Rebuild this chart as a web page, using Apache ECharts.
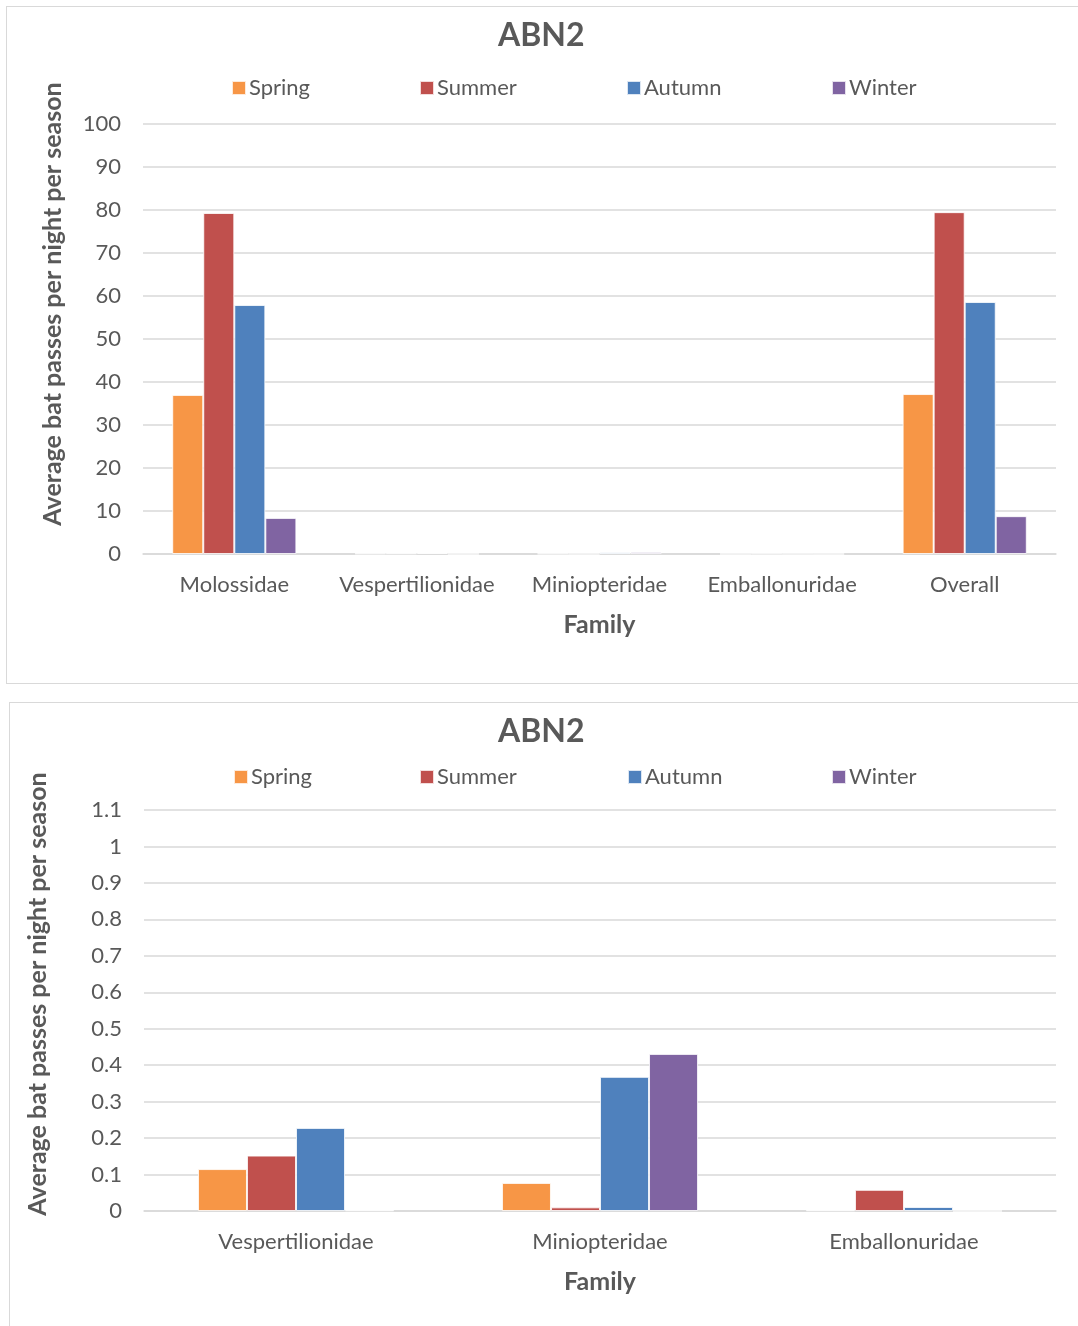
<!DOCTYPE html>
<html>
<head>
<meta charset="utf-8">
<script src="https://cdn.jsdelivr.net/npm/echarts@6/dist/echarts.min.js"></script>
<style>
html,body{margin:0;padding:0;background:#fff;overflow:hidden;width:1078px;height:1326px;}
.box{position:absolute;border:1.5px solid #d9d9d9;box-sizing:border-box;background:#fff;}
#c1{left:6px;top:6px;width:1080px;height:678px;}
#c2{left:9px;top:702px;width:1077px;height:630px;}
</style>
</head>
<body>
<div id="c1" class="box"></div>
<div id="c2" class="box"></div>
<script>
// ---- Data ----
const seasons = ['Spring', 'Summer', 'Autumn', 'Winter'];
const seasonColors = ['#F79646', '#C0504D', '#4F81BD', '#8064A2'];

const topCategories = ['Molossidae', 'Vespertilionidae', 'Miniopteridae', 'Emballonuridae', 'Overall'];
const topSpring = [37.0, 0.115, 0.077, 0.002, 37.2];
const topSummer = [79.3, 0.152, 0.010, 0.058, 79.5];
const topAutumn = [57.9, 0.228, 0.368, 0.011, 58.6];
const topWinter = [8.4, 0.002, 0.431, 0, 8.8];

const bottomCategories = ['Vespertilionidae', 'Miniopteridae', 'Emballonuridae'];
const bottomSpring = [0.115, 0.077, 0.002];
const bottomSummer = [0.152, 0.010, 0.058];
const bottomAutumn = [0.228, 0.368, 0.011];
const bottomWinter = [0.002, 0.431, 0];

const chartTitle = 'ABN2';
const yAxisTitle = 'Average bat passes per night per season';
const xAxisTitle = 'Family';

// ---- Styling helpers ----
const FONT = 'Lato, "Open Sans", sans-serif';
const TXT = '#595959';
const GRID = '#d9d9d9';

function legends(top, lefts) {
  return seasons.map((s, i) => ({
    data: [s], left: lefts[i], top: top, icon: 'rect',
    itemWidth: 14, itemHeight: 14, itemGap: 0,
    textStyle: { fontFamily: FONT, fontSize: 22, color: TXT, padding: [0, 0, 0, -2] }
  }));
}

function build(cfg) {
  const seriesData = [cfg.spring, cfg.summer, cfg.autumn, cfg.winter];
  return {
    animation: false,
    textStyle: { fontFamily: FONT },
    title: {
      text: chartTitle, left: cfg.titleLeft, top: cfg.titleTop,
      textStyle: { fontFamily: FONT, fontSize: 32, fontWeight: 'bold', color: TXT }
    },
    legend: legends(cfg.legendTop, cfg.legendLefts),
    grid: cfg.grid,
    graphic: [{
      type: 'text', x: cfg.yNameX, y: cfg.yNameY, rotation: Math.PI / 2,
      style: {
        text: yAxisTitle, fontFamily: FONT, fontSize: 25, fontWeight: 'bold',
        fill: TXT, textAlign: 'center', textVerticalAlign: 'middle'
      }
    }],
    xAxis: {
      type: 'category', data: cfg.categories,
      axisLine: { lineStyle: { color: GRID, width: 1.5 } },
      axisTick: { show: false },
      axisLabel: { fontFamily: FONT, fontSize: 22, color: TXT, margin: cfg.xLabelMargin, interval: 0 },
      name: xAxisTitle, nameLocation: 'middle', nameGap: cfg.xNameGap,
      nameTextStyle: { fontFamily: FONT, fontSize: 25, fontWeight: 'bold', color: TXT }
    },
    yAxis: {
      type: 'value', min: 0, max: cfg.max, interval: cfg.interval,
      axisLine: { show: false }, axisTick: { show: false },
      axisLabel: { fontFamily: FONT, fontSize: 22, color: TXT, margin: 22 },
      splitLine: { lineStyle: { color: GRID, width: 1.5 } }
    },
    series: seasons.map((s, i) => ({
      name: s, type: 'bar', data: seriesData[i],
      barGap: '0%', barCategoryGap: cfg.catGap,
      itemStyle: { color: seasonColors[i], borderColor: 'rgba(255,255,255,0.8)', borderWidth: 1 }
    }))
  };
}

const c1 = echarts.init(document.getElementById('c1'));
c1.setOption(build({
  categories: topCategories,
  spring: topSpring, summer: topSummer, autumn: topAutumn, winter: topWinter,
  max: 100, interval: 10,
  titleLeft: 486, titleTop: 8, legendTop: 65,
  legendLefts: [219, 407, 614, 819],
  grid: { left: 136, top: 117, width: 913, height: 430 },
  yNameX: 46, yNameY: 297,
  xLabelMargin: 20, xNameGap: 58, catGap: '32%'
}));

const c2 = echarts.init(document.getElementById('c2'));
c2.setOption(build({
  categories: bottomCategories,
  spring: bottomSpring, summer: bottomSummer, autumn: bottomAutumn, winter: bottomWinter,
  max: 1.1, interval: 0.1,
  titleLeft: 483, titleTop: 8, legendTop: 58,
  legendLefts: [218, 404, 612, 816],
  grid: { left: 134, top: 107, width: 912, height: 401 },
  yNameX: 28, yNameY: 291,
  xLabelMargin: 20, xNameGap: 58, catGap: '35.5%'
}));
</script>
</body>
</html>
